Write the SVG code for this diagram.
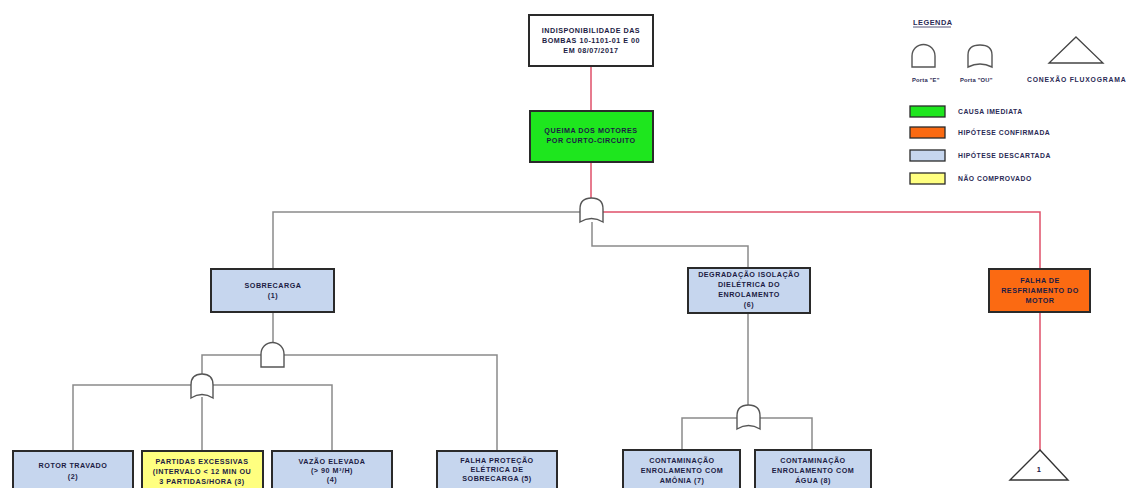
<svg xmlns="http://www.w3.org/2000/svg" width="1138" height="488" viewBox="0 0 1138 488">
<style>
.box{stroke:#2a2a2a;stroke-width:2}
.blue{fill:#c6d6ee}
.green{fill:#1ee61e}
.orange{fill:#fb6a12}
.yellow{fill:#ffff80}
.white{fill:#fff}
.t{font-family:"Liberation Sans",Arial,sans-serif;font-weight:bold;font-size:7.2px;fill:#1c1c44;text-anchor:middle;letter-spacing:0.5px}
.lt{font-family:"Liberation Sans",Arial,sans-serif;font-weight:bold;font-size:6.8px;fill:#2a2a55;letter-spacing:0.5px}
.gate{fill:#fff;stroke:#555;stroke-width:1.4}
.grey{fill:none;stroke:#8a8a8a;stroke-width:1.5}
.red{fill:none;stroke:#e0506a;stroke-width:1.5}
</style>
<rect width="1138" height="488" fill="#fff"/>
<g id="connectors">
<path class="red" d="M591,66V111M591,162V198M603,212H1040V269M1040,312V450"/>
<path class="grey" d="M580,212H273V269M592,222V246H748V268M273,312V343M261,355H202V374M284,355H497V451M191,385H73V451M202,397V451M213,385H332V451M748,313V406M737,418H682V451M760,418H812V451"/>
</g>
<g id="gates">
<path id="gate-or-main" class="gate" d="M580,222V209Q580,198 591.5,198Q603,198 603,209V222Q591.5,215 580,222Z"/>
<path id="gate-or-degr" class="gate" d="M737,429V416Q737,405 748.5,405Q760,405 760,416V429Q748.5,422 737,429Z"/>
<path id="gate-and-sobre" class="gate" d="M261,367V354A11.5,11.5 0 0 1 284,354V367Z"/>
<path id="gate-or-sobre" class="gate" d="M191,398V385Q191,374 202,374Q213,374 213,385V398Q202,391 191,398Z"/>
</g>
<g id="n-top">
<rect class="box white" x="529" y="15" width="124" height="51"/>
<text class="t" x="591" y="33">INDISPONIBILIDADE DAS</text>
<text class="t" x="591" y="43">BOMBAS 10-1101-01 E 00</text>
<text class="t" x="591" y="53">EM 08/07/2017</text>
</g>
<g id="n-queima">
<rect class="box green" x="530" y="111" width="123" height="51"/>
<text class="t" x="591" y="133">QUEIMA DOS MOTORES</text>
<text class="t" x="591" y="143">POR CURTO-CIRCUITO</text>
</g>
<g id="n-sobrecarga">
<rect class="box blue" x="211" y="269" width="123" height="43"/>
<text class="t" x="273" y="288">SOBRECARGA</text>
<text class="t" x="273" y="298">(1)</text>
</g>
<g id="n-degradacao">
<rect class="box blue" x="688" y="268" width="122" height="45"/>
<text class="t" x="749" y="277">DEGRADAÇÃO ISOLAÇÃO</text>
<text class="t" x="749" y="287">DIELÉTRICA DO</text>
<text class="t" x="749" y="297">ENROLAMENTO</text>
<text class="t" x="749" y="307">(6)</text>
</g>
<g id="n-resfriamento">
<rect class="box orange" x="989" y="269" width="101" height="43"/>
<text class="t" x="1040" y="283">FALHA DE</text>
<text class="t" x="1040" y="293">RESFRIAMENTO DO</text>
<text class="t" x="1040" y="303">MOTOR</text>
</g>
<g id="n-rotor">
<rect class="box blue" x="13" y="451" width="120" height="50"/>
<text class="t" x="73" y="468">ROTOR TRAVADO</text>
<text class="t" x="73" y="479">(2)</text>
</g>
<g id="n-partidas">
<rect class="box yellow" x="142" y="451" width="121" height="50"/>
<text class="t" x="202" y="464">PARTIDAS EXCESSIVAS</text>
<text class="t" x="202" y="474">(INTERVALO &lt; 12 MIN OU</text>
<text class="t" x="202" y="484">3 PARTIDAS/HORA (3)</text>
</g>
<g id="n-vazao">
<rect class="box blue" x="272" y="451" width="120" height="50"/>
<text class="t" x="332" y="464">VAZÃO ELEVADA</text>
<text class="t" x="332" y="473">(&gt; 90 M³/H)</text>
<text class="t" x="332" y="482">(4)</text>
</g>
<g id="n-protecao">
<rect class="box blue" x="437" y="451" width="120" height="50"/>
<text class="t" x="497" y="463">FALHA PROTEÇÃO</text>
<text class="t" x="497" y="472">ELÉTRICA DE</text>
<text class="t" x="497" y="481">SOBRECARGA (5)</text>
</g>
<g id="n-amonia">
<rect class="box blue" x="623" y="450" width="117" height="51"/>
<text class="t" x="682" y="463">CONTAMINAÇÃO</text>
<text class="t" x="682" y="473">ENROLAMENTO COM</text>
<text class="t" x="682" y="483">AMÔNIA (7)</text>
</g>
<g id="n-agua">
<rect class="box blue" x="755" y="450" width="116" height="51"/>
<text class="t" x="813" y="463">CONTAMINAÇÃO</text>
<text class="t" x="813" y="473">ENROLAMENTO COM</text>
<text class="t" x="813" y="483">ÁGUA (8)</text>
</g>
<g id="n-conexao1">
<path d="M1040,450L1068,480H1010Z" fill="#fff" stroke="#333" stroke-width="1.4"/>
<text class="t" x="1039" y="472" style="font-size:7.5px">1</text>
</g>
<g id="legend">
<text class="lt" x="913" y="25" style="font-size:7.4px">LEGENDA</text>
<line x1="913" y1="27" x2="951" y2="27" stroke="#2a2a55" stroke-width="0.8"/>
<path class="gate" d="M912,67V56A11.5,11.5 0 0 1 935,56V67Z"/>
<path class="gate" d="M968,67V55Q968,45 980,45Q992,45 992,55V67Q980,61 968,67Z"/>
<path d="M1076,37L1103,63H1049Z" fill="#fff" stroke="#444" stroke-width="1.3"/>
<text class="lt" x="912" y="82" style="font-size:5.8px;letter-spacing:0.2px">Porta "E"</text>
<text class="lt" x="960" y="82" style="font-size:5.8px;letter-spacing:0.2px">Porta "OU"</text>
<text class="lt" x="1027" y="82" style="letter-spacing:0.8px">CONEXÃO FLUXOGRAMA</text>
<rect class="box green" x="910" y="106" width="35" height="11" style="stroke-width:1.3"/>
<rect class="box orange" x="910" y="127" width="35" height="11" style="stroke-width:1.3"/>
<rect class="box blue" x="910" y="150" width="35" height="11" style="stroke-width:1.3"/>
<rect class="box yellow" x="910" y="173" width="35" height="11" style="stroke-width:1.3"/>
<text class="lt" x="958" y="114">CAUSA IMEDIATA</text>
<text class="lt" x="958" y="135">HIPÓTESE CONFIRMADA</text>
<text class="lt" x="958" y="158">HIPÓTESE DESCARTADA</text>
<text class="lt" x="958" y="181">NÃO COMPROVADO</text>
</g>
</svg>
